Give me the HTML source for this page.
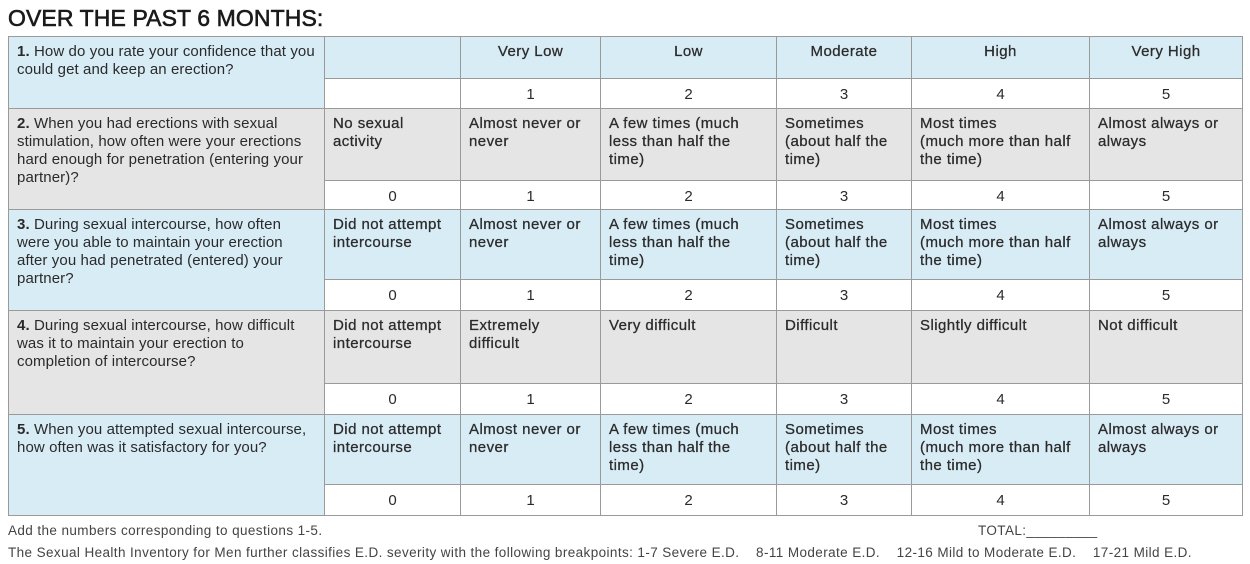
<!DOCTYPE html>
<html><head><meta charset="utf-8"><style>
body{margin:0;width:1250px;height:564px;background:#fff;position:relative;overflow:hidden;font-family:"Liberation Sans",Arial,sans-serif;color:#2a2a2a}
.t{position:absolute;left:8px;top:5px;font-size:23px;-webkit-text-stroke:0.6px #1a1a1a;letter-spacing:0.1px;color:#1a1a1a}
.c{position:absolute;box-sizing:border-box;border:1px solid #9a9a9a;font-size:15px;line-height:18px;padding:6px 8px}
.q{letter-spacing:0.1px}
.b{background:#d8ecf6}.g{background:#e5e5e5}.w{background:#fff}
.a{-webkit-text-stroke:0.3px #333;letter-spacing:0.45px}
.n{text-align:center;padding:7px 0 0}
.h{text-align:center}
.f{position:absolute;font-size:13.5px;color:#444;letter-spacing:0.4px}
</style></head><body>
<div class="t">OVER THE PAST 6 MONTHS:</div>

<div class="c b q" style="left:8px;top:36px;width:317px;height:73px"><b>1.</b> How do you rate your confidence that you<br>could get and keep an erection?</div>
<div class="c b" style="left:324px;top:36px;width:137px;height:43px"></div>
<div class="c b h a" style="left:460px;top:36px;width:141px;height:43px">Very Low</div>
<div class="c b h a" style="left:600px;top:36px;width:177px;height:43px">Low</div>
<div class="c b h a" style="left:776px;top:36px;width:136px;height:43px">Moderate</div>
<div class="c b h a" style="left:911px;top:36px;width:179px;height:43px">High</div>
<div class="c b h a" style="left:1089px;top:36px;width:154px;height:43px">Very High</div>
<div class="c w n" style="left:324px;top:78px;width:137px;height:31px"></div>
<div class="c w n" style="left:460px;top:78px;width:141px;height:31px">1</div>
<div class="c w n" style="left:600px;top:78px;width:177px;height:31px">2</div>
<div class="c w n" style="left:776px;top:78px;width:136px;height:31px">3</div>
<div class="c w n" style="left:911px;top:78px;width:179px;height:31px">4</div>
<div class="c w n" style="left:1089px;top:78px;width:154px;height:31px">5</div>

<div class="c g q" style="left:8px;top:108px;width:317px;height:102px"><b>2.</b> When you had erections with sexual stimulation, how often were your erections hard enough for penetration (entering your partner)?</div>
<div class="c g a" style="left:324px;top:108px;width:137px;height:73px">No sexual activity</div>
<div class="c g a" style="left:460px;top:108px;width:141px;height:73px">Almost never or never</div>
<div class="c g a" style="left:600px;top:108px;width:177px;height:73px">A few times (much less than half the time)</div>
<div class="c g a" style="left:776px;top:108px;width:136px;height:73px">Sometimes (about half the time)</div>
<div class="c g a" style="left:911px;top:108px;width:179px;height:73px">Most times<br>(much more than half the time)</div>
<div class="c g a" style="left:1089px;top:108px;width:154px;height:73px">Almost always or always</div>
<div class="c w n" style="left:324px;top:180px;width:137px;height:30px">0</div>
<div class="c w n" style="left:460px;top:180px;width:141px;height:30px">1</div>
<div class="c w n" style="left:600px;top:180px;width:177px;height:30px">2</div>
<div class="c w n" style="left:776px;top:180px;width:136px;height:30px">3</div>
<div class="c w n" style="left:911px;top:180px;width:179px;height:30px">4</div>
<div class="c w n" style="left:1089px;top:180px;width:154px;height:30px">5</div>

<div class="c b q" style="left:8px;top:209px;width:317px;height:102px"><b>3.</b> During sexual intercourse, how often were you able to maintain your erection after you had penetrated (entered) your partner?</div>
<div class="c b a" style="left:324px;top:209px;width:137px;height:71px">Did not attempt intercourse</div>
<div class="c b a" style="left:460px;top:209px;width:141px;height:71px">Almost never or never</div>
<div class="c b a" style="left:600px;top:209px;width:177px;height:71px">A few times (much less than half the time)</div>
<div class="c b a" style="left:776px;top:209px;width:136px;height:71px">Sometimes (about half the time)</div>
<div class="c b a" style="left:911px;top:209px;width:179px;height:71px">Most times<br>(much more than half the time)</div>
<div class="c b a" style="left:1089px;top:209px;width:154px;height:71px">Almost always or always</div>
<div class="c w n" style="left:324px;top:279px;width:137px;height:32px">0</div>
<div class="c w n" style="left:460px;top:279px;width:141px;height:32px">1</div>
<div class="c w n" style="left:600px;top:279px;width:177px;height:32px">2</div>
<div class="c w n" style="left:776px;top:279px;width:136px;height:32px">3</div>
<div class="c w n" style="left:911px;top:279px;width:179px;height:32px">4</div>
<div class="c w n" style="left:1089px;top:279px;width:154px;height:32px">5</div>

<div class="c g q" style="left:8px;top:310px;width:317px;height:105px"><b>4.</b> During sexual intercourse, how difficult was it to maintain your erection to completion of intercourse?</div>
<div class="c g a" style="left:324px;top:310px;width:137px;height:74px">Did not attempt intercourse</div>
<div class="c g a" style="left:460px;top:310px;width:141px;height:74px">Extremely difficult</div>
<div class="c g a" style="left:600px;top:310px;width:177px;height:74px">Very difficult</div>
<div class="c g a" style="left:776px;top:310px;width:136px;height:74px">Difficult</div>
<div class="c g a" style="left:911px;top:310px;width:179px;height:74px">Slightly difficult</div>
<div class="c g a" style="left:1089px;top:310px;width:154px;height:74px">Not difficult</div>
<div class="c w n" style="left:324px;top:383px;width:137px;height:32px">0</div>
<div class="c w n" style="left:460px;top:383px;width:141px;height:32px">1</div>
<div class="c w n" style="left:600px;top:383px;width:177px;height:32px">2</div>
<div class="c w n" style="left:776px;top:383px;width:136px;height:32px">3</div>
<div class="c w n" style="left:911px;top:383px;width:179px;height:32px">4</div>
<div class="c w n" style="left:1089px;top:383px;width:154px;height:32px">5</div>

<div class="c b q" style="left:8px;top:414px;width:317px;height:102px"><b>5.</b> When you attempted sexual intercourse, how often was it satisfactory for you?</div>
<div class="c b a" style="left:324px;top:414px;width:137px;height:71px">Did not attempt intercourse</div>
<div class="c b a" style="left:460px;top:414px;width:141px;height:71px">Almost never or never</div>
<div class="c b a" style="left:600px;top:414px;width:177px;height:71px">A few times (much less than half the time)</div>
<div class="c b a" style="left:776px;top:414px;width:136px;height:71px">Sometimes (about half the time)</div>
<div class="c b a" style="left:911px;top:414px;width:179px;height:71px">Most times<br>(much more than half the time)</div>
<div class="c b a" style="left:1089px;top:414px;width:154px;height:71px">Almost always or always</div>
<div class="c w n" style="left:324px;top:484px;width:137px;height:32px">0</div>
<div class="c w n" style="left:460px;top:484px;width:141px;height:32px">1</div>
<div class="c w n" style="left:600px;top:484px;width:177px;height:32px">2</div>
<div class="c w n" style="left:776px;top:484px;width:136px;height:32px">3</div>
<div class="c w n" style="left:911px;top:484px;width:179px;height:32px">4</div>
<div class="c w n" style="left:1089px;top:484px;width:154px;height:32px">5</div>

<div class="f" style="left:8px;top:523px">Add the numbers corresponding to questions 1-5.</div>
<div class="f" style="left:978px;top:523px">TOTAL:_________</div>
<div class="f" style="left:8px;top:545px;white-space:pre">The Sexual Health Inventory for Men further classifies E.D. severity with the following breakpoints: 1-7 Severe E.D.    8-11 Moderate E.D.    12-16 Mild to Moderate E.D.    17-21 Mild E.D.</div>
</body></html>
